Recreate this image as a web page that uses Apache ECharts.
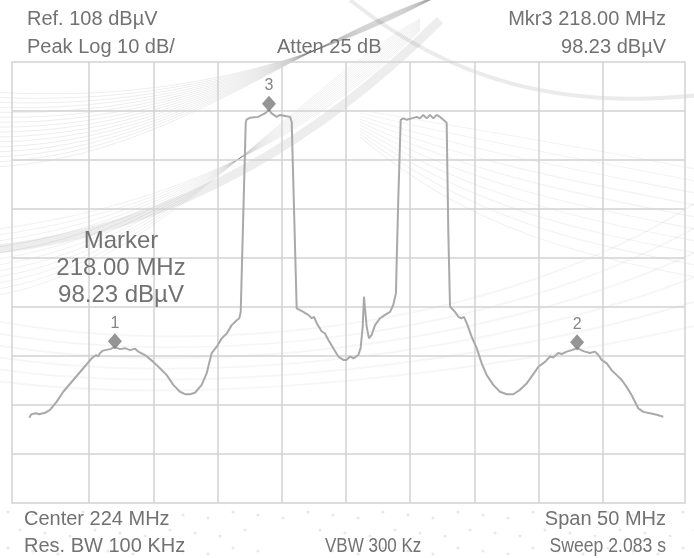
<!DOCTYPE html>
<html>
<head>
<meta charset="utf-8">
<script src="https://cdn.jsdelivr.net/npm/echarts@6/dist/echarts.min.js"></script>
<style>
  html, body { margin: 0; padding: 0; background: #ffffff; }
  #chart { width: 694px; height: 558px; }
</style>
</head>
<body>
<div id="chart"></div>
<script>
// Spectrum analyser sweep: two digital channels with adjacent-band shoulders.
const centerMHz = 224;
const spanMHz = 50;
const refLevel = 108;      // dBuV, top graticule line
const dbPerDiv = 10;
const divisions = 9;

// Trace samples (frequency in MHz, level in dBuV)
const freqMHz = [
  199.33, 199.50, 199.65, 199.85, 200.10, 200.56, 200.95, 201.47, 201.98, 202.76,
  203.54, 204.19, 204.53, 204.69, 204.85, 205.07, 205.62, 206.00, 206.40, 206.79,
  207.18, 207.57, 207.82, 208.35, 208.99, 209.51, 210.04, 210.55, 211.07, 211.46,
  211.85, 212.24, 212.76, 213.15, 213.54, 213.93, 214.32, 214.71, 215.10, 215.49,
  215.69, 215.80, 216.19, 216.27, 216.52, 217.15, 217.69, 218.00, 218.21, 218.60,
  218.86, 219.25, 219.64, 219.77, 220.16, 220.67, 221.06, 221.33, 221.51, 221.72,
  222.11, 222.36, 222.62, 223.01, 223.40, 223.79, 224.05, 224.31, 224.57, 224.96,
  225.14, 225.30, 225.40, 225.61, 225.79, 226.00, 226.26, 226.65, 227.04, 227.43,
  227.68, 227.89, 227.95, 228.07, 228.26, 228.46, 228.73, 229.12, 229.51, 229.76,
  230.02, 230.29, 230.54, 230.80, 231.06, 231.32, 231.58, 231.84, 231.97, 232.10,
  232.23, 232.49, 232.75, 233.01, 233.19, 233.40, 233.79, 234.18, 234.57, 234.96,
  235.47, 235.99, 236.52, 237.03, 237.55, 238.07, 238.59, 238.98, 239.11, 239.50,
  239.89, 240.14, 240.53, 240.80, 241.19, 241.58, 242.00, 242.40, 242.61, 243.00,
  243.39, 243.65, 243.91, 244.30, 244.69, 245.09, 245.47, 245.86, 246.25, 246.77,
  247.15, 247.68, 248.20, 248.71
];
const levelDbuV = [
  35.4, 36.1, 35.7, 36.3, 36.1, 36.4, 37.0, 38.7, 40.7, 43.1,
  45.5, 47.5, 48.2, 47.9, 48.6, 49.1, 49.4, 49.8, 49.4, 49.6,
  49.2, 49.5, 48.9, 48.2, 46.8, 45.5, 44.1, 42.1, 40.7, 40.2,
  40.2, 40.5, 42.1, 44.5, 48.6, 49.9, 51.6, 52.6, 54.3, 55.3,
  55.7, 57.0, 95.6, 96.3, 96.6, 96.8, 97.5, 98.23, 97.5, 96.8,
  97.2, 97.0, 96.8, 95.8, 57.7, 57.0, 56.4, 55.7, 56.0, 54.7,
  53.0, 52.6, 51.3, 49.6, 47.9, 47.2, 47.2, 47.9, 47.5, 48.2,
  49.6, 54.0, 60.1, 54.0, 51.6, 52.3, 54.3, 55.7, 56.4, 57.0,
  58.4, 60.8, 67.6, 79.8, 96.2, 96.5, 96.2, 96.5, 96.8, 96.5,
  97.2, 96.5, 97.2, 96.5, 97.2, 96.8, 96.2, 95.6, 73.1, 58.1,
  57.7, 57.0, 56.0, 55.7, 56.0, 54.7, 51.9, 49.6, 46.5, 44.1,
  42.1, 40.7, 40.2, 40.2, 41.1, 42.4, 44.3, 45.8, 45.5, 46.8,
  47.9, 47.7, 48.6, 48.4, 48.9, 49.2, 49.6, 49.1, 48.9, 48.6,
  48.9, 48.2, 47.2, 46.5, 45.1, 44.1, 43.1, 41.7, 40.0, 37.3,
  36.6, 36.3, 36.0, 35.6
];

// Markers
const markerIds = ['1', '2', '3'];
const markerFreqMHz = [206.00, 242.00, 218.00];
const markerLevel = [49.8, 49.6, 98.23];
const activeMarker = 2;   // index of Mkr3

const xMin = centerMHz - spanMHz / 2;
const xMax = centerMHz + spanMHz / 2;
const yMax = refLevel;
const yMin = refLevel - dbPerDiv * divisions;

const textColor = '#727272';
const gridColor = '#d2d2d2';
const font = '"Liberation Sans", Arial, sans-serif';

const mkrF = markerFreqMHz[activeMarker].toFixed(2);
const mkrL = markerLevel[activeMarker].toFixed(2);

function txt(x, y, s, size, align, extra) {
  return Object.assign({
    type: 'text', x: x, y: y, z: 10,
    style: {
      text: s, fill: textColor, font: size + 'px ' + font,
      textAlign: align || 'left', textVerticalAlign: 'middle'
    }
  }, extra || {});
}

// Soft decorative sweeps and dots behind the graticule
const decor = [];
function sweep(shape, stroke, width) {
  decor.push({ type: 'bezierCurve', z: -10, silent: true, shape: shape,
    style: { stroke: stroke, lineWidth: width, fill: null } });
}
for (let i = 0; i < 16; i++) {
  const y0 = 92 + i * 5;
  sweep({ x1: -10, y1: y0, cpx1: 160, cpy1: y0 + 10 - i, cpx2: 300, cpy2: 70 - i * 2, x2: 440, y2: -5 },
    'rgba(0,0,0,0.07)', 1);
}
for (let i = 0; i < 12; i++) {
  const y0 = 230 + i * 6;
  sweep({ x1: -10, y1: y0, cpx1: 150, cpy1: y0 - 20, cpx2: 300, cpy2: 150 - i * 6, x2: 420, y2: 30 - i },
    'rgba(0,0,0,0.06)', 1);
}
sweep({ x1: -10, y1: 250, cpx1: 180, cpy1: 230, cpx2: 330, cpy2: 130, x2: 440, y2: 20 }, 'rgba(0,0,0,0.07)', 9);
sweep({ x1: 350, y1: 0, cpx1: 450, cpy1: 80, cpx2: 560, cpy2: 110, x2: 700, y2: 95 }, 'rgba(0,0,0,0.08)', 4);
for (let i = 0; i < 10; i++) {
  const y0 = 150 + i * 12;
  sweep({ x1: 360, y1: 110 + i * 3, cpx1: 480, cpy1: y0 - 20, cpx2: 600, cpy2: y0, x2: 700, y2: y0 + 20 },
    'rgba(0,0,0,0.05)', 1.2);
}
for (let i = 0; i < 6; i++) {
  sweep({ x1: -10, y1: 320 + i * 12, cpx1: 200, cpy1: 360 + i * 10, cpx2: 500, cpy2: 330 + i * 8, x2: 700, y2: 200 + i * 25 },
    'rgba(0,0,0,0.035)', 2);
}
for (let r = 0; r < 3; r++) {
  for (let c = 0; c < 28; c++) {
    const cx = 8 + c * 25 + (r % 2) * 12;
    const cy = 512 + r * 18 + (c % 3) * 3;
    if (cx > 260 && cx < 320 && r > 0) continue;
    decor.push({ type: 'circle', z: -10, silent: true,
      shape: { cx: cx, cy: cy, r: 1.6 }, style: { fill: 'rgba(0,0,0,0.09)' } });
  }
}

const chart = echarts.init(document.getElementById('chart'), null, { renderer: 'canvas' });
chart.setOption({
  backgroundColor: '#ffffff',
  animation: false,
  grid: [
    // full graticule frame with the level divisions
    { left: 12, right: 9, top: 62, bottom: 55, show: true, borderColor: gridColor, borderWidth: 1.5, backgroundColor: 'transparent' },
    // swept span, 5 MHz per division
    { left: 25, right: 27, top: 62, bottom: 55 }
  ],
  xAxis: [
    { gridIndex: 0, type: 'value', min: 0, max: 1, show: false },
    {
      gridIndex: 1, type: 'value', min: xMin, max: xMax, interval: spanMHz / 10,
      axisLine: { show: false }, axisTick: { show: false }, axisLabel: { show: false },
      splitLine: { show: true, showMinLine: false, showMaxLine: false, lineStyle: { color: gridColor, width: 1.5 } }
    }
  ],
  yAxis: [
    {
      gridIndex: 0, type: 'value', min: yMin, max: yMax, interval: dbPerDiv,
      axisLine: { show: false }, axisTick: { show: false }, axisLabel: { show: false },
      splitLine: { show: true, showMinLine: false, showMaxLine: false, lineStyle: { color: gridColor, width: 1.5 } }
    },
    {
      gridIndex: 1, type: 'value', min: yMin, max: yMax, interval: dbPerDiv,
      axisLine: { show: false }, axisTick: { show: false }, axisLabel: { show: false },
      splitLine: { show: false }
    }
  ],
  series: [
    {
      type: 'line', name: 'Trace', z: 3, xAxisIndex: 1, yAxisIndex: 1,
      data: freqMHz.map((f, i) => [f, levelDbuV[i]]),
      symbol: 'none', smooth: false,
      lineStyle: { color: '#a9a9a9', width: 2 }
    },
    {
      type: 'scatter', name: 'Markers', z: 5, xAxisIndex: 1, yAxisIndex: 1,
      data: markerFreqMHz.map((f, i) => ({ value: [f, markerLevel[i]], name: markerIds[i] })),
      symbol: 'diamond', symbolSize: [14, 16], symbolOffset: [0, -6],
      itemStyle: { color: '#7b7b7b' },
      label: {
        show: true, position: 'top', distance: 2, formatter: p => p.name,
        color: '#666666', fontSize: 16, fontFamily: font
      }
    }
  ],
  graphic: decor.concat([
    txt(27, 19, 'Ref. ' + refLevel + ' dB\u00b5V', 20),
    txt(27, 47, 'Peak Log ' + dbPerDiv + ' dB/', 20),
    txt(277, 47, 'Atten 25 dB', 20),
    txt(666, 19, 'Mkr3 ' + mkrF + ' MHz', 20, 'right'),
    txt(666, 47, mkrL + ' dB\u00b5V', 20, 'right'),
    txt(121, 241, 'Marker', 24, 'center'),
    txt(121, 268, mkrF + ' MHz', 24, 'center'),
    txt(121, 295, mkrL + ' dB\u00b5V', 24, 'center'),
    txt(24, 519, 'Center ' + centerMHz + ' MHz', 20),
    txt(24, 546, 'Res. BW 100 KHz', 20),
    txt(325, 546, 'VBW 300 Kz', 20, 'left', { scaleX: 0.85 }),
    txt(666, 519, 'Span ' + spanMHz + ' MHz', 20, 'right'),
    txt(666, 546, 'Sweep 2.083 s', 20, 'right', { scaleX: 0.88 })
  ])
});
</script>
</body>
</html>
